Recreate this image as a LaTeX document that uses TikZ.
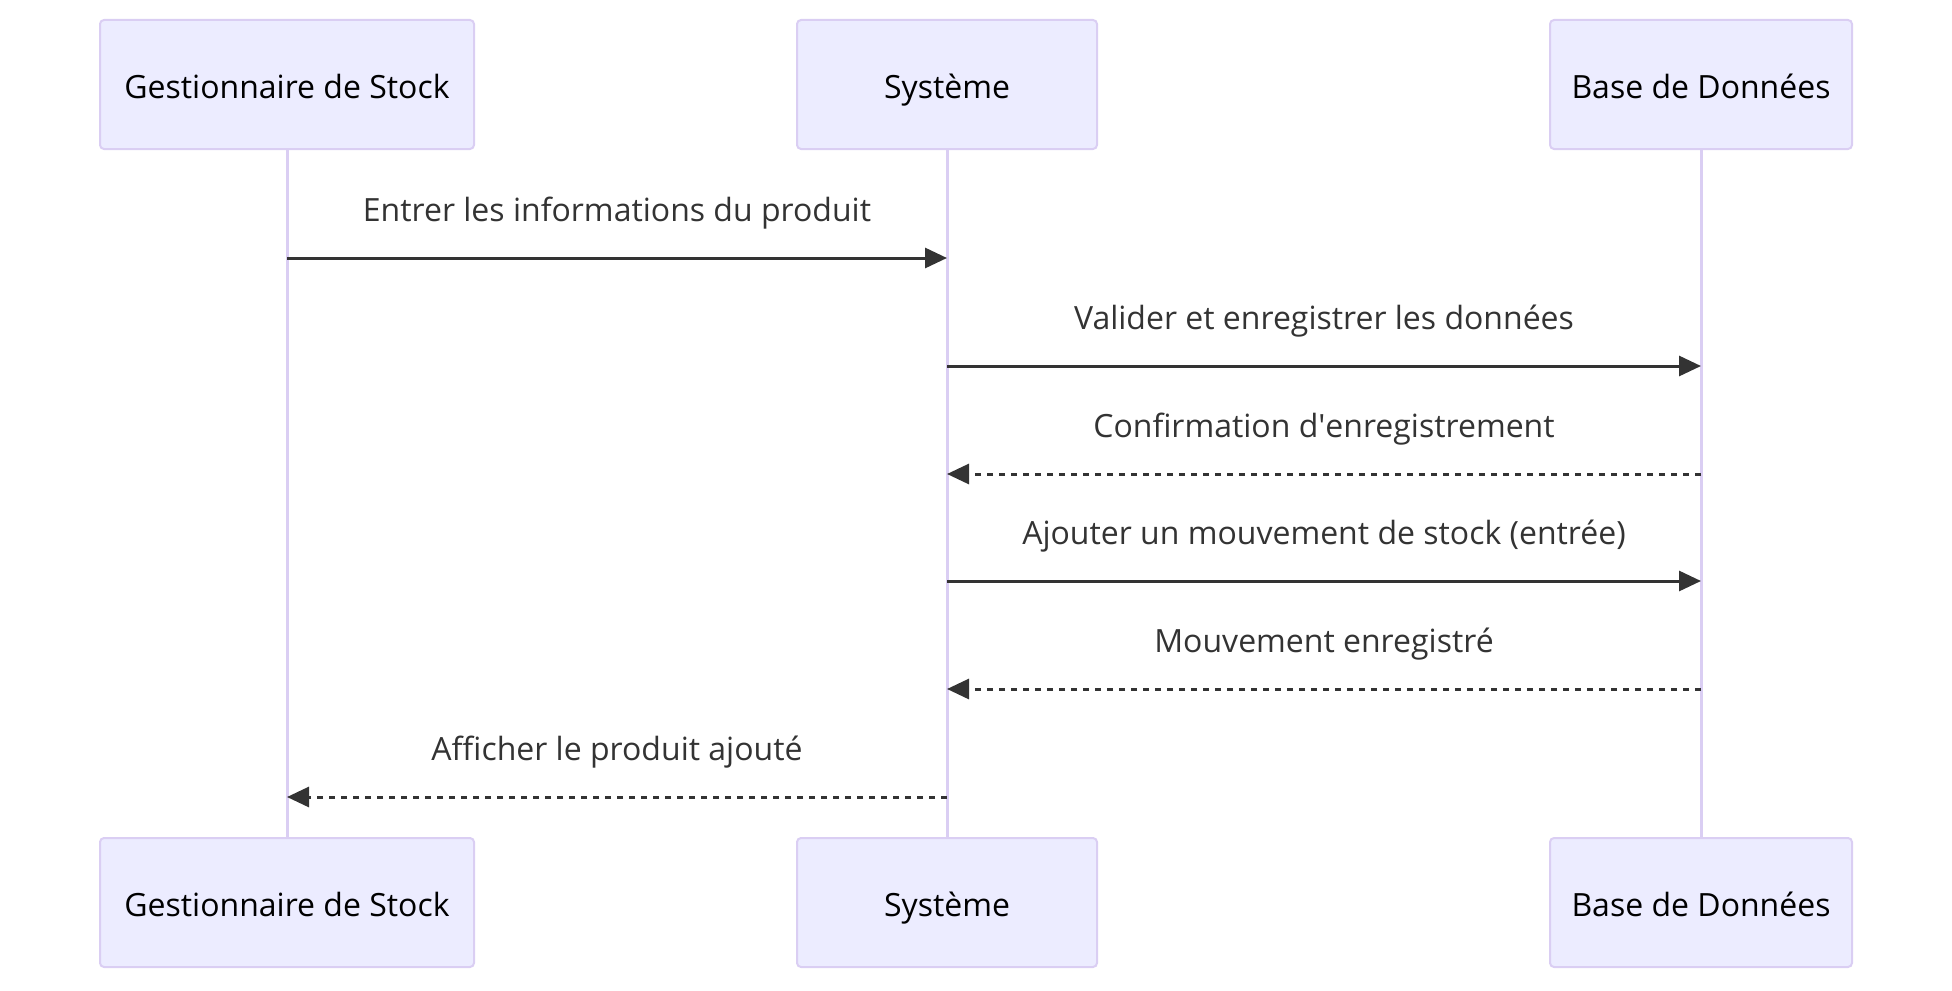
\documentclass[tikz,border=0pt]{standalone}
\usepackage{fontspec}
\setmainfont{Open Sans}
\usetikzlibrary{arrows.meta}
\definecolor{actorfill}{HTML}{ECECFF}
\definecolor{actorline}{HTML}{DACEF3}
\definecolor{msgline}{HTML}{333333}

\begin{document}
\begin{tikzpicture}[x=0.5pt,y=-0.5pt,
    actor/.style={draw=actorline,fill=actorfill,line width=1pt,rounded corners=2pt,
      minimum height=64.5pt,inner sep=0pt,text height=13.5pt,text depth=0pt,
      font=\fontsize{16}{19}\selectfont},
    lifeline/.style={draw=actorline,line width=1.5pt},
    msg/.style={draw=msgline,line width=1.5pt,-{Triangle[length=11pt,width=10pt]}},
    reply/.style={msg,dash pattern=on 3pt off 3pt},
    msglabel/.style={text=msgline,inner sep=0pt,anchor=base,yshift=18.4pt,
      font=\fontsize{16}{19}\selectfont}]
  % Configurable parameters
  \def\top{84.5}
  \def\bot{902.5}
  %
  \useasboundingbox (0,0) rectangle (1952,990);
  %
  % Actors
  \node[actor,minimum width=187pt] (gtop) at (287,\top) {Gestionnaire de Stock};
  \node[actor,minimum width=150pt] (stop) at (947,\top) {Système};
  \node[actor,minimum width=151pt] (btop) at (1701,\top) {Base de Données};
  \node[actor,minimum width=187pt] (gbot) at (287,\bot) {Gestionnaire de Stock};
  \node[actor,minimum width=150pt] (sbot) at (947,\bot) {Système};
  \node[actor,minimum width=151pt] (bbot) at (1701,\bot) {Base de Données};
  %
  % Lifelines
  \draw[lifeline] (gtop) -- (gbot);
  \draw[lifeline] (stop) -- (sbot);
  \draw[lifeline] (btop) -- (bbot);
  %
  % Points on the lifelines
  \foreach \n/\y in {1/258,2/366,3/474,4/581,5/689,6/797}{
    \coordinate (g\n) at (gtop |- 0,\y);
    \coordinate (s\n) at (stop |- 0,\y);
    \coordinate (b\n) at (btop |- 0,\y);
  }
  %
  % Messages
  \draw[msg] (g1) -- node[msglabel] {Entrer les informations du produit} (s1);
  \draw[msg] (s2) -- node[msglabel] {Valider et enregistrer les données} (b2);
  \draw[reply] (b3) -- node[msglabel] {Confirmation d\textquotesingle enregistrement} (s3);
  \draw[msg] (s4) -- node[msglabel] {Ajouter un mouvement de stock (entrée)} (b4);
  \draw[reply] (b5) -- node[msglabel] {Mouvement enregistré} (s5);
  \draw[reply] (s6) -- node[msglabel] {Afficher le produit ajouté} (g6);
  %
\end{tikzpicture}
\end{document}
